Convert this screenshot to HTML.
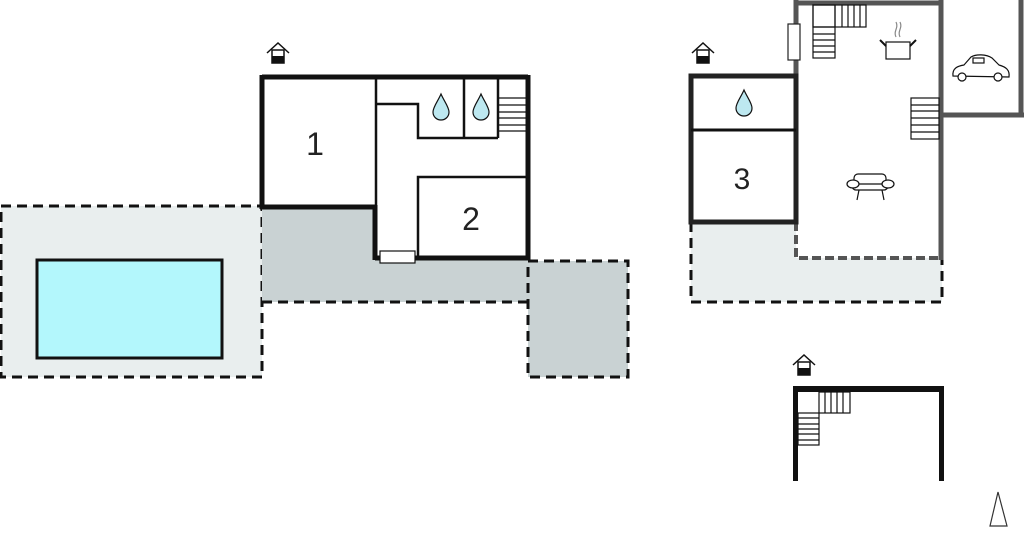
<!DOCTYPE html>
<html><head><style>html,body{margin:0;padding:0;background:#fff}svg{display:block}</style></head>
<body>
<svg width="1024" height="537" viewBox="0 0 1024 537" xmlns="http://www.w3.org/2000/svg" font-family="Liberation Sans, sans-serif">
<defs>
<g id="drop"><path d="M0,-13 C3,-6 8,0 8,5 C8,10 4,13 0,13 C-4,13 -8,10 -8,5 C-8,0 -3,-6 0,-13Z" fill="#bde8f0" stroke="#111" stroke-width="1.2"/></g>
<g id="home"><path d="M-11,9 L0,-1 L11,9" fill="none" stroke="#111" stroke-width="1.5"/><rect x="-6" y="6" width="12" height="13" fill="#fff" stroke="#111" stroke-width="1.5"/><rect x="-6" y="12" width="12" height="7" fill="#111"/></g>
</defs>
<!-- pool terrace -->
<rect x="1" y="206" width="261" height="171" fill="#e9eeee" stroke="#111" stroke-width="3" stroke-dasharray="10,6"/>
<rect x="37" y="260" width="185" height="98" fill="#b3f7fc" stroke="#111" stroke-width="3"/>
<!-- dark terrace -->
<path d="M262,207 L375,207 L375,258 L528,258 L528,302 L262,302Z" fill="#c9d2d3"/>
<path d="M262,302 L528,302" stroke="#111" stroke-width="3" stroke-dasharray="10,6"/>
<rect x="528" y="261" width="100" height="116" fill="#c9d2d3" stroke="#111" stroke-width="3" stroke-dasharray="10,6"/>
<!-- main house -->
<rect x="262" y="75" width="266" height="132" fill="#fff"/>
<rect x="375" y="75" width="153" height="183" fill="#fff"/>
<g stroke="#111" fill="none">
<path d="M262,77 L528,77" stroke-width="5"/>
<path d="M262,75 L262,209" stroke-width="5"/>
<path d="M260,207 L377,207" stroke-width="5"/>
<path d="M375,205 L375,260" stroke-width="5"/>
<path d="M375,258 L530,258" stroke-width="5"/>
<path d="M528,75 L528,260" stroke-width="5"/>
<path d="M376,77 L376,205" stroke-width="2.5"/>
<path d="M376,104 L418,104 L418,138 L498,138" stroke-width="2.5"/>
<path d="M464,77 L464,138" stroke-width="2.5"/>
<path d="M498,77 L498,138" stroke-width="2.5"/>
<path d="M418,258 L418,177 L528,177" stroke-width="2.5"/>
<path d="M498,98 L526,98 M498,105 L526,105 M498,112 L526,112 M498,118 L526,118 M498,125 L526,125 M498,131 L526,131" stroke-width="1.2"/>
</g>
<rect x="380" y="251" width="35" height="12" fill="#fff" stroke="#111" stroke-width="1.2"/>
<use href="#drop" x="441" y="107"/><use href="#drop" x="481" y="107"/>
<text x="315" y="155" font-size="32" text-anchor="middle" fill="#222">1</text>
<text x="471" y="230" font-size="32" text-anchor="middle" fill="#222">2</text>
<use href="#home" x="278" y="44"/>
<!-- right complex -->
<rect x="691" y="222" width="251" height="80" fill="#e9eeee"/>
<path d="M691,222 L691,302 L942,302 L942,258" fill="none" stroke="#111" stroke-width="3" stroke-dasharray="10,6"/>
<rect x="796" y="3" width="146" height="255" fill="#fff"/>
<g stroke="#555" fill="none">
<path d="M796,3 L943,3" stroke-width="5"/>
<path d="M796,0 L796,75" stroke-width="5"/>
<path d="M941,0 L941,260" stroke-width="5"/>
<path d="M1021,0 L1021,117" stroke-width="5"/>
<path d="M941,115 L1024,115" stroke-width="5"/>
<path d="M796,222 L796,258 L942,258" stroke-width="4" stroke-dasharray="9,4"/>
</g>
<rect x="691" y="76" width="105" height="146" fill="#fff" stroke="#222" stroke-width="5"/>
<path d="M691,130 L796,130" stroke="#111" stroke-width="3"/>
<use href="#drop" x="744" y="103"/>
<text x="742" y="189" font-size="30" text-anchor="middle" fill="#222">3</text>
<use href="#home" x="703" y="44"/>
<rect x="788" y="24" width="12" height="36" fill="#fff" stroke="#222" stroke-width="1.2"/>
<g stroke="#111" stroke-width="1.2" fill="none">
<rect x="813" y="5" width="53" height="22"/>
<path d="M835,5 V27 M842,5 V27 M848,5 V27 M854,5 V27 M860,5 V27"/>
<rect x="813" y="5" width="22" height="53"/>
<path d="M813,27 H835 M813,34 H835 M813,40 H835 M813,46 H835 M813,52 H835"/>
<rect x="911" y="98" width="28" height="41"/>
<path d="M911,105 H939 M911,111 H939 M911,118 H939 M911,125 H939 M911,132 H939"/>
<rect x="886" y="42" width="24" height="17"/>
<path d="M880,40 L886,46 M916,40 L910,46" stroke-width="2"/>
<path d="M896,37 C893,31 899,28 896,22 M900,37 C897,31 903,28 900,22" stroke="#888"/>
<path d="M953,76 C952,68 958,66 964,65 L971,57 C976,54 986,54 992,58 L999,65 C1006,67 1010,70 1009,77 Z"/>
<circle cx="962" cy="77" r="4" fill="#fff"/><circle cx="998" cy="77" r="4" fill="#fff"/>
<rect x="973" y="58" width="11" height="5"/>
<rect x="852" y="180" width="36" height="10" rx="4"/>
<rect x="854" y="174" width="32" height="10" rx="4" fill="#fff"/>
<ellipse cx="853" cy="184" rx="6" ry="4" fill="#fff"/><ellipse cx="888" cy="184" rx="6" ry="4" fill="#fff"/>
<path d="M859,190 L857,200 M882,190 L884,200"/>
</g>
<!-- bottom building -->
<g stroke="#111" fill="none">
<path d="M793,389 L944,389" stroke-width="6"/>
<path d="M795.5,387 L795.5,481" stroke-width="5"/>
<path d="M941.5,387 L941.5,481" stroke-width="5"/>
<g stroke-width="1.2">
<rect x="819" y="392" width="31" height="21"/>
<path d="M825,392 V413 M831,392 V413 M837,392 V413 M843,392 V413"/>
<rect x="798" y="413" width="21" height="32"/>
<path d="M798,418 H819 M798,424 H819 M798,429 H819 M798,434 H819 M798,440 H819"/>
</g>
</g>
<use href="#home" x="804" y="356"/>
<path d="M998,492 L990,526 L1007,526 Z" fill="none" stroke="#333" stroke-width="1.2"/>
</svg>
</body></html>
